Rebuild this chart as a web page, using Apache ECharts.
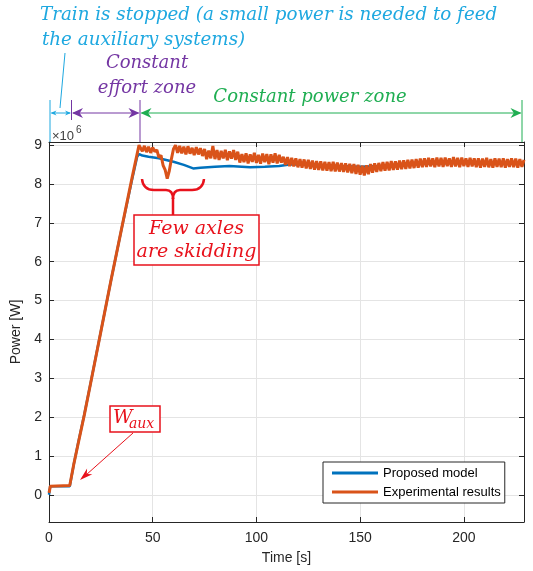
<!DOCTYPE html>
<html>
<head>
<meta charset="utf-8">
<script src="https://cdn.jsdelivr.net/npm/echarts@6/dist/echarts.min.js"></script>
<style>
  html, body { margin: 0; padding: 0; background: #ffffff; }
  #chart { width: 533px; height: 571px; }
</style>
</head>
<body>
<div id="chart"></div>
<script>
// ---- axis ticks (power in units of 1e6 W) ----
const xTicks = [0, 50, 100, 150, 200];
const yTicks = [0, 1, 2, 3, 4, 5, 6, 7, 8, 9];
const xRange = [0, 229];
const yRange = [-0.7, 9.08];

// ---- proposed model ----
const modelTime  = [0, 0.6, 10, 12, 14, 17, 20, 25, 30, 35, 40, 42.5, 43.5, 45, 48, 53, 57, 60, 65, 69.5, 73, 80, 87, 97, 104, 111, 116, 124, 132, 140, 150, 160, 170, 180, 190, 200, 210, 220, 229];
const modelPower = [0, 0.22, 0.22, 0.8, 1.32, 2.06, 2.86, 4.2, 5.55, 6.85, 8.1, 8.7, 8.77, 8.73, 8.70, 8.66, 8.61, 8.57, 8.49, 8.40, 8.42, 8.44, 8.46, 8.43, 8.44, 8.46, 8.50, 8.50, 8.48, 8.46, 8.44, 8.46, 8.49, 8.52, 8.53, 8.55, 8.55, 8.55, 8.54];

// ---- experimental results: start-up and ramp ----
const expRampTime  = [0, 0.3, 0.6, 10, 12, 14, 17, 20, 25, 30, 35, 40, 43.4];
const expRampPower = [0.05, 0.12, 0.22, 0.24, 0.8, 1.3, 2.05, 2.85, 4.2, 5.55, 6.85, 8.15, 9.0];

// ---- experimental results: 1 s samples from t = 44 s ----
const expTailStart = 44;
const expTailPower = [
  // 44-51
  9.00, 8.84, 8.98, 8.82, 8.96, 8.80, 8.94, 8.83,
  // 52-61 (skidding)
  8.88, 8.68, 8.74, 8.48, 8.36, 8.14, 8.34, 8.64, 8.90, 9.00,
  // 62-75
  8.80, 8.98, 8.79, 8.96, 8.76, 8.97, 8.78, 8.93, 8.74, 8.95, 8.76, 8.92, 8.72, 8.90,
  // 76-91
  8.64, 8.86, 8.66, 8.98, 8.64, 8.87, 8.62, 8.85, 8.66, 8.88, 8.61, 8.84, 8.65, 8.87, 8.62, 8.83,
  // 92-112
  8.55, 8.77, 8.56, 8.79, 8.53, 8.76, 8.57, 8.80, 8.54, 8.75, 8.52, 8.78, 8.56, 8.77, 8.51, 8.76, 8.55, 8.79, 8.53, 8.75, 8.55,
  // 113-140
  8.70, 8.49, 8.69, 8.46, 8.67, 8.45, 8.66, 8.43, 8.64, 8.42, 8.63, 8.40, 8.62, 8.39, 8.60, 8.37, 8.59, 8.36, 8.58, 8.35, 8.57, 8.34, 8.56, 8.33, 8.57, 8.32, 8.55, 8.32,
  // 141-160
  8.54, 8.31, 8.53, 8.30, 8.52, 8.28, 8.51, 8.26, 8.49, 8.24, 8.47, 8.22, 8.48, 8.25, 8.51, 8.29, 8.53, 8.31, 8.54, 8.33,
  // 161-180
  8.56, 8.34, 8.57, 8.35, 8.59, 8.36, 8.58, 8.37, 8.60, 8.38, 8.61, 8.39, 8.62, 8.40, 8.63, 8.41, 8.64, 8.42, 8.65, 8.43,
  // 181-205
  8.66, 8.44, 8.67, 8.45, 8.66, 8.43, 8.68, 8.45, 8.67, 8.44, 8.68, 8.46, 8.66, 8.44, 8.69, 8.45, 8.67, 8.43, 8.68, 8.46, 8.66, 8.44, 8.67, 8.45, 8.66,
  // 206-229
  8.43, 8.66, 8.42, 8.65, 8.44, 8.67, 8.43, 8.64, 8.42, 8.66, 8.44, 8.65, 8.43, 8.66, 8.42, 8.64, 8.44, 8.66, 8.43, 8.65, 8.42, 8.64, 8.44, 8.62
];

const seriesNames = ['Proposed model', 'Experimental results'];
const colors = { model: '#0072BD', exp: '#D95319', axis: '#262626', grid: '#e4e4e4' };

const modelData = modelTime.map((t, i) => [t, modelPower[i]]);
const expData = expRampTime.map((t, i) => [t, expRampPower[i]])
  .concat(expTailPower.map((p, i) => [expTailStart + i, p]));

// ---- annotation styling ----
const annoFont = '"DejaVu Serif", "Liberation Serif", serif';
const cyan = '#1ea8e0', purple = '#7436a3', green = '#1fae52', red = '#e8121c';
const uiFont = '"Liberation Sans", Arial, Helvetica, sans-serif';

function txt(text, x, y, size, color, align) {
  return {
    type: 'text', x: x, y: y, z: 100, silent: true,
    style: {
      text: text, fill: color, font: 'italic ' + size + 'px ' + annoFont,
      align: align || 'left', verticalAlign: 'middle',
      textAlign: align || 'left', textVerticalAlign: 'middle'
    }
  };
}
function seg(x1, y1, x2, y2, color, w) {
  return { type: 'line', z: 100, silent: true, shape: { x1: x1, y1: y1, x2: x2, y2: y2 },
           style: { stroke: color, lineWidth: w || 1 } };
}
function curve(x1, y1, cx, cy, x2, y2, color, w) {
  return { type: 'bezierCurve', z: 100, silent: true,
           shape: { x1: x1, y1: y1, x2: x2, y2: y2, cpx1: cx, cpy1: cy },
           style: { stroke: color, lineWidth: w, fill: null } };
}
// arrow head with a notched back, tip at (tx, ty), pointing along (dx, dy)
function head(tx, ty, dx, dy, len, half, notch, color) {
  const n = Math.hypot(dx, dy); dx /= n; dy /= n;
  const px = -dy, py = dx;
  const bx = tx - dx * len, by = ty - dy * len;
  return { type: 'polygon', z: 101, silent: true,
    shape: { points: [[tx, ty], [bx + px * half, by + py * half],
                      [tx - dx * len * (1 - notch), ty - dy * len * (1 - notch)],
                      [bx - px * half, by - py * half]] },
    style: { fill: color } };
}
function dimArrow(x1, x2, y, color, len, half) {
  return [
    seg(x1 + 1, y, x2 - 1, y, color, 1),
    head(x1, y, -1, 0, len, half, 0.3, color),
    head(x2, y, 1, 0, len, half, 0.3, color)
  ];
}

const arrowY = 113;
const graphics = [
  // zone labels above the plot
  txt('Train is stopped (a small power is needed to feed', 40, 15, 18.3, cyan),
  txt('the auxiliary systems)', 42, 40, 18.3, cyan),
  seg(65, 53, 60, 108, cyan, 1),
  txt('Constant', 147, 63, 18, purple, 'center'),
  txt('effort zone', 147, 88, 18, purple, 'center'),
  txt('Constant power zone', 310, 97, 18, green, 'center'),
  // zone boundaries
  seg(50, 100, 50, 142, cyan, 1),
  seg(71.5, 100, 71.5, 120, purple, 1),
  seg(140, 100, 140, 142, purple, 1),
  seg(522, 100, 522, 142, green, 1)
].concat(
  dimArrow(50.5, 71, arrowY, cyan, 6, 2.5),
  dimArrow(72, 139.5, arrowY, purple, 11, 5),
  dimArrow(140.5, 521.5, arrowY, green, 11, 5)
).concat([
  // exponent of the power axis
  { type: 'text', x: 52, y: 136, z: 100, silent: true,
    style: { text: '\u00d710', fill: '#404040', font: '13px ' + uiFont, align: 'left', verticalAlign: 'middle', textAlign: 'left', textVerticalAlign: 'middle' } },
  { type: 'text', x: 76, y: 130, z: 100, silent: true,
    style: { text: '6', fill: '#404040', font: '10px ' + uiFont, align: 'left', verticalAlign: 'middle', textAlign: 'left', textVerticalAlign: 'middle' } },
  // skidding brace
  curve(142, 179, 143, 190, 154, 190, red, 2.5),
  seg(154, 190, 166, 190, red, 2.5),
  curve(166, 190, 173, 190, 173, 199, red, 2.5),
  curve(204, 179, 203, 190, 192, 190, red, 2.5),
  seg(192, 190, 180, 190, red, 2.5),
  curve(180, 190, 173, 190, 173, 199, red, 2.5),
  seg(173, 198, 173, 215, red, 2.5),
  { type: 'rect', z: 99, silent: true, shape: { x: 134, y: 215, width: 125, height: 50 },
    style: { fill: '#ffffff', stroke: red, lineWidth: 1.5 } },
  txt('Few axles', 196.5, 229, 19, red, 'center'),
  txt('are skidding', 196.5, 252, 19, red, 'center'),
  // auxiliary power label
  { type: 'rect', z: 99, silent: true, shape: { x: 110, y: 406, width: 50, height: 26 },
    style: { fill: '#ffffff', stroke: red, lineWidth: 1.5 } },
  txt('W', 113, 418, 19, red),
  txt('aux', 129, 424, 14, red),
  seg(133, 433, 86, 475, red, 1),
  head(80, 480, -53, 47, 13, 4, 0.3, red)
]);

const chart = echarts.init(document.getElementById('chart'), null, { renderer: 'canvas' });
chart.setOption({
  animation: false,
  backgroundColor: '#ffffff',
  textStyle: { fontFamily: uiFont },
  grid: { left: 49, right: 9, top: 142, bottom: 49, containLabel: false },
  legend: {
    data: seriesNames,
    orient: 'vertical',
    left: 323, top: 462,
    icon: 'rect', itemWidth: 46, itemHeight: 3, itemGap: 5,
    padding: [4, 4, 4, 9],
    borderColor: colors.axis, borderWidth: 1, backgroundColor: '#ffffff',
    textStyle: { fontSize: 13, color: '#000000', fontFamily: uiFont, lineHeight: 14 }
  },
  xAxis: [
    {
      type: 'value', position: 'bottom', min: xRange[0], max: xRange[1], interval: 50,
      name: 'Time [s]', nameLocation: 'middle', nameGap: 29,
      nameTextStyle: { fontSize: 14, color: colors.axis, fontFamily: uiFont },
      axisLine: { show: true, onZero: false, lineStyle: { color: colors.axis, width: 1 } },
      axisTick: { show: true, inside: true, length: 5, lineStyle: { color: colors.axis } },
      axisLabel: { fontSize: 14, color: colors.axis, margin: 9, showMaxLabel: false, fontFamily: uiFont,
                   formatter: v => (xTicks.indexOf(v) >= 0 ? String(v) : '') },
      splitLine: { show: true, lineStyle: { color: colors.grid, width: 1 } }
    },
    {
      type: 'value', position: 'top', min: xRange[0], max: xRange[1], interval: 50,
      axisLine: { show: true, onZero: false, lineStyle: { color: colors.axis, width: 1 } },
      axisTick: { show: true, inside: true, length: 5, lineStyle: { color: colors.axis } },
      axisLabel: { show: false }, splitLine: { show: false }
    }
  ],
  yAxis: [
    {
      type: 'value', position: 'left', min: yRange[0], max: yRange[1],
      name: 'Power [W]', nameLocation: 'middle', nameGap: 20, nameRotate: 90,
      nameTextStyle: { fontSize: 14, color: colors.axis, fontFamily: uiFont },
      axisLine: { show: true, onZero: false, lineStyle: { color: colors.axis, width: 1 } },
      axisTick: { show: true, inside: true, length: 5, customValues: yTicks, lineStyle: { color: colors.axis } },
      axisLabel: { fontSize: 14, color: colors.axis, margin: 7, customValues: yTicks, fontFamily: uiFont },
      splitLine: { show: true, lineStyle: { color: colors.grid, width: 1 } }
    },
    {
      type: 'value', position: 'right', min: yRange[0], max: yRange[1],
      axisLine: { show: true, onZero: false, lineStyle: { color: colors.axis, width: 1 } },
      axisTick: { show: true, inside: true, length: 5, customValues: yTicks, lineStyle: { color: colors.axis } },
      axisLabel: { show: false }, splitLine: { show: false }
    }
  ],
  series: [
    {
      name: seriesNames[0], type: 'line', xAxisIndex: 0, yAxisIndex: 0,
      data: modelData, showSymbol: false, symbol: 'none', z: 3,
      lineStyle: { color: colors.model, width: 2.5 }, itemStyle: { color: colors.model }
    },
    {
      name: seriesNames[1], type: 'line', xAxisIndex: 0, yAxisIndex: 0,
      data: expData, showSymbol: false, symbol: 'none', z: 4,
      lineStyle: { color: colors.exp, width: 3 }, itemStyle: { color: colors.exp }
    }
  ],
  graphic: { elements: graphics }
});
</script>
</body>
</html>
